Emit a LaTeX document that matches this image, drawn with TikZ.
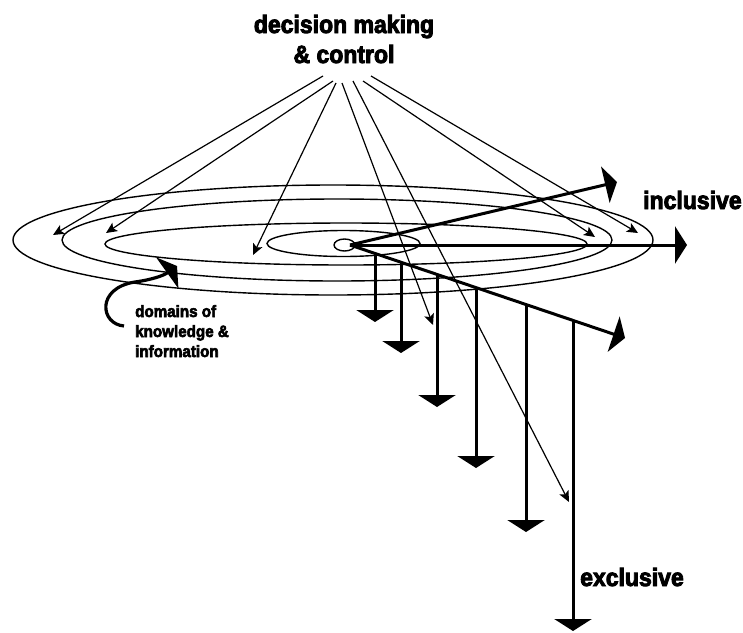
\documentclass[tikz,border=0pt]{standalone}
\usepackage{fontspec}
\newfontfamily\hfont[FakeStretch=0.92,BoldFeatures={FakeBold=3.5}]{Liberation Sans}
\usetikzlibrary{arrows.meta}
\tikzset{
  ring/.style={line width=1.4pt},
  thinarrow/.style={line width=1.2pt,-{Stealth[length=11pt,width=10pt,inset=2.5pt]}},
  bigarrow/.style={line width=3pt,-{Triangle[length=12pt,width=37pt]}},
  bigtitle/.style={font=\hfont\bfseries\fontsize{25}{30}\selectfont,inner sep=0pt},
  smalltitle/.style={font=\hfont\bfseries\fontsize{16.5}{20}\selectfont,inner sep=0pt}
}
\begin{document}
\begin{tikzpicture}[x=1pt,y=-1pt]
\useasboundingbox (0,0) rectangle (743,632);
% rings
\draw[ring] (333,240) ellipse [x radius=320pt, y radius=55pt];
\draw[ring] (337,240) ellipse [x radius=275pt, y radius=41pt];
\draw[ring] (346,244) ellipse [x radius=241pt, y radius=21pt];
\draw[ring] (343.5,243.5) ellipse [x radius=76.5pt, y radius=13pt];
\draw[ring] (344.5,245) ellipse [x radius=10.5pt, y radius=6pt];
% title
\node[bigtitle,align=center,anchor=base] (title) at (344,63) {decision making\\ \& control};
\coordinate (s1) at (323,76);
\coordinate (s2) at (333,81);
\coordinate (s3) at (336,83);
\coordinate (s4) at (342,83);
\coordinate (s5) at (353,81);
\coordinate (s6) at (363,81);
\coordinate (s7) at (371,76);
\coordinate (t1) at (53,235);
\coordinate (t2) at (106,233);
\coordinate (t3) at (253,255);
\coordinate (t4) at (433,325);
\coordinate (t5) at (569,502);
\coordinate (t6) at (595,237);
\coordinate (t7) at (638,233);
\foreach \i in {1,...,7} \draw[thinarrow] (s\i) -- (t\i);
% axes
\coordinate (O) at (350,245);
\coordinate (I1) at (617,182);
\coordinate (I2) at (687,245);
\coordinate (X) at (625,338);
\draw[bigarrow] (O) -- (I1);
\draw[bigarrow] (O) -- (I2);
\draw[bigarrow] (O) -- (X);
\foreach \n/\x/\y/\ty in {1/375/253.5/322, 2/401/262.2/353, 3/437/274.4/407, 4/476/287.6/468, 5/526/304.5/532, 6/573/320.4/631}{
  \coordinate (a\n) at (\x,\y);
  \coordinate (b\n) at (\x,\ty);
  \draw[bigarrow] (a\n) -- (b\n);
}
\node[bigtitle,anchor=base west] (incl) at (643,209) {inclusive};
\node[bigtitle,anchor=base west] (excl) at (580,586) {exclusive};
% domains label
\node[smalltitle,align=left,anchor=base west] (dom) at (135,357) {domains of\\knowledge \&\\information};
\coordinate (c0) at (124,326);
\coordinate (c1) at (177,266);
\draw[line width=3.2pt,-{Triangle[length=12pt,width=38pt]}] (c0) .. controls (100,324) and (96,288) .. (135,282) .. controls (150,280) and (163,276) .. (c1);
\end{tikzpicture}
\end{document}
